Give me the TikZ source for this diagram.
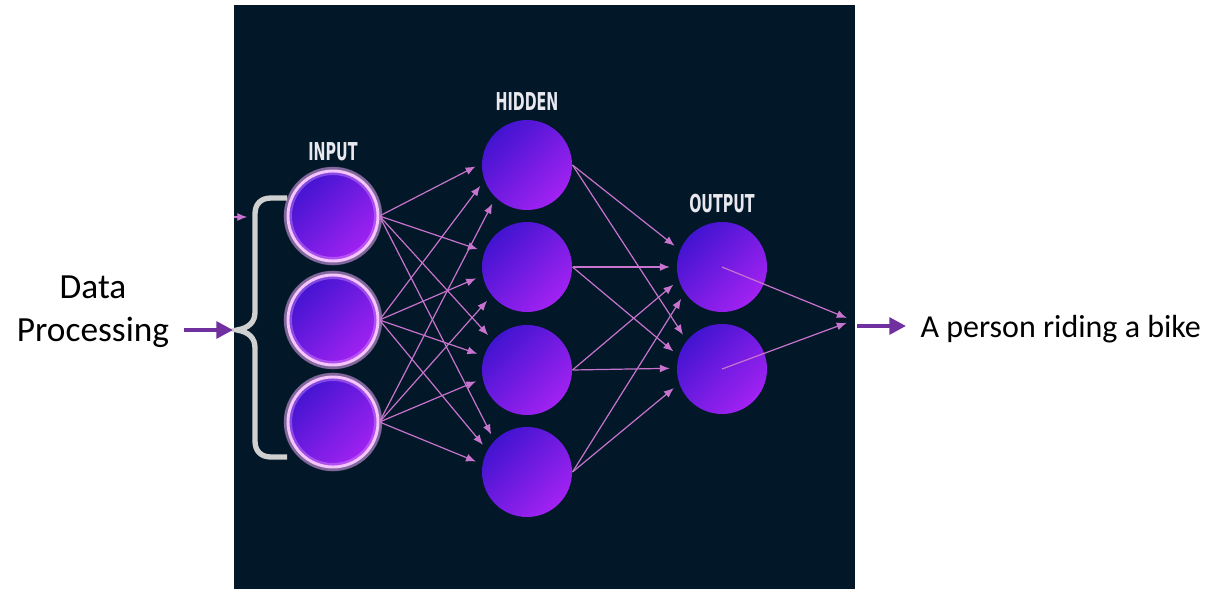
\documentclass[tikz,border=0pt]{standalone}
\usepackage{fontspec}
\setmainfont{Carlito}
\newfontfamily\layerfont{DejaVu Sans}
\usetikzlibrary{arrows.meta}

\definecolor{panelbg}{RGB}{2,24,41}
\definecolor{cellA}{RGB}{66,20,208}
\definecolor{cellB}{RGB}{162,34,242}
\definecolor{rim}{RGB}{248,212,252}
\definecolor{glow}{RGB}{238,170,255}
\definecolor{wire}{RGB}{200,115,205}
\definecolor{pointer}{RGB}{112,48,160}
\definecolor{caption}{RGB}{232,232,238}
\definecolor{bracegray}{RGB}{208,208,208}

\newcommand{\squeeze}[1]{\scalebox{0.58}[1]{#1}}

\tikzset{every picture/.style={line width=0.75pt}}
\tikzset{
  neuron/.style={circle, inner sep=0pt, minimum size=67.5pt, top color=cellA, bottom color=cellB, shading angle=45},
  inneuron/.style={neuron, draw=rim, line width=2.2pt,
    preaction={draw=glow, line width=6.5pt, draw opacity=0.3},
    postaction={draw=glow, line width=6pt, draw opacity=0.35}},
  wirearrow/.style={draw=wire, line width=0.9pt, -{Latex[length=7.5pt,width=6pt]}, shorten >=5pt},
  pointerarrow/.style={draw=pointer, line width=3pt, -{Triangle[length=12.5pt,width=12.5pt]}},
  layername/.style={text=caption, font=\layerfont\bfseries\fontsize{18.5}{18.5}\selectfont},
}

\begin{document}
\begin{tikzpicture}[x=0.75pt,y=0.75pt,yscale=-1,xscale=1]
\useasboundingbox (0,0) rectangle (1220,589);

%Shape: Rectangle
\fill[panelbg] (234,5) rectangle (855,589);

%Shape: Circle
\node[inneuron] (i1) at (333,216) {};
\node[inneuron] (i2) at (333,320) {};
\node[inneuron] (i3) at (333,422) {};
\node[neuron] (h1) at (527,165) {};
\node[neuron] (h2) at (527,267) {};
\node[neuron] (h3) at (527,370) {};
\node[neuron] (h4) at (527,472) {};
\node[neuron] (o1) at (722,267) {};
\node[neuron] (o2) at (722,369) {};

%Text Node
\node[layername] (inlabel) at (333,152) {\squeeze{INPUT}};
\node[layername] (hidlabel) at (527,102) {\squeeze{HIDDEN}};
\node[layername] (outlabel) at (722,204) {\squeeze{OUTPUT}};

%Curve Lines
\draw[bracegray, line width=4pt] (287,198) -- (271,198) .. controls (261,198) and (255,204) .. (255,214) -- (255,312) .. controls (255,322) and (249,328) .. (237,330) .. controls (249,332) and (255,338) .. (255,348) -- (255,441) .. controls (255,451) and (261,457) .. (271,457) -- (287,457) ;

%Straight Lines
\coordinate (feed) at (234,217);
\coordinate (feedtip) at (254,217);
\draw[wirearrow] (feed) -- (feedtip) ;
\draw[wirearrow] (i1.east) -- (h1.178) ;
\draw[wirearrow] (i2.east) -- (h1.200) ;
\draw[wirearrow] (i3.east) -- (h1.226) ;
\draw[wirearrow] (i1.east) -- (h2.160) ;
\draw[wirearrow] (i2.east) -- (h2.191) ;
\draw[wirearrow] (i3.east) -- (h2.219) ;
\draw[wirearrow] (i1.east) -- (h3.139) ;
\draw[wirearrow] (i2.east) -- (h3.162) ;
\draw[wirearrow] (i3.east) -- (h3.191) ;
\draw[wirearrow] (i1.east) -- (h4.136) ;
\draw[wirearrow] (i2.east) -- (h4.151) ;
\draw[wirearrow] (i3.east) -- (h4.170) ;
%Straight Lines
\draw[wirearrow] (h1.east) -- (o1.158) ;
\draw[wirearrow] (h1.east) -- (o2.141) ;
\draw[wirearrow] (h2.east) -- (o1.180) ;
\draw[wirearrow] (h2.east) -- (o2.163) ;
\draw[wirearrow] (h3.east) -- (o1.197) ;
\draw[wirearrow] (h3.east) -- (o2.179) ;
\draw[wirearrow] (h4.east) -- (o1.215) ;
\draw[wirearrow] (h4.east) -- (o2.199) ;
%Straight Lines
\coordinate (sink) at (853,320.5);
\draw[wirearrow] (o1.center) -- (sink) ;
\draw[wirearrow] (o2.center) -- (sink) ;

%Text Node
\node[align=center, font=\fontsize{26.5}{32}\selectfont] (proc) at (93,312) {Data\\Processing};
\node[anchor=base west, inner sep=0pt, font=\fontsize{24}{28}\selectfont] (result) at (920,337) {A person riding a bike};

%Straight Lines
\coordinate (procstart) at (184,330);
\coordinate (procend) at (233,330);
\draw[pointerarrow] (procstart) -- (procend) ;
\coordinate (resultstart) at (857,326);
\coordinate (resultend) at (906,326);
\draw[pointerarrow] (resultstart) -- (resultend) ;
\end{tikzpicture}
\end{document}
